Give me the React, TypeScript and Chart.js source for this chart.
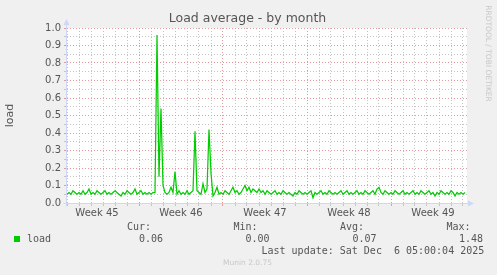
import React, { useEffect, useRef } from "react";
import { Chart, registerables } from "chart.js";

Chart.register(...registerables);

const TITLE = "Load average - by month";
const Y_LABEL = "load";
const SIDE_TEXT = "RRDTOOL / TOBI OETIKER";
const LAST_UPDATE = "Last update: Sat Dec  6 05:00:04 2025";
const FOOTER = "Munin 2.0.75";

// one sample every 4 hours (in days), starting at the left edge of the graph
const STEP_DAYS = 1 / 6;
const X_MAX_DAYS = 100 / 3;

const loadValues = [
  0.05, 0.06, 0.05, 0.07, 0.06, 0.05, 0.06, 0.05, 0.07, 0.05,
  0.06, 0.08, 0.05, 0.06, 0.05, 0.07, 0.06, 0.05, 0.06, 0.07,
  0.05, 0.06, 0.05, 0.06, 0.07, 0.06, 0.05, 0.04, 0.06, 0.05,
  0.07, 0.06, 0.05, 0.06, 0.08, 0.05, 0.06, 0.07, 0.05, 0.06,
  0.05, 0.06, 0.05, 0.06, 0.06, 0.96, 0.15, 0.54, 0.10, 0.06,
  0.05, 0.06, 0.09, 0.06, 0.18, 0.05, 0.07, 0.05, 0.06, 0.05,
  0.07, 0.05, 0.06, 0.07, 0.41, 0.07, 0.06, 0.05, 0.11, 0.06,
  0.08, 0.42, 0.17, 0.04, 0.06, 0.09, 0.05, 0.06, 0.05, 0.07,
  0.06, 0.05, 0.07, 0.09, 0.06, 0.07, 0.05, 0.06, 0.08, 0.10,
  0.07, 0.09, 0.06, 0.08, 0.07, 0.06, 0.08, 0.06, 0.07, 0.05,
  0.07, 0.06, 0.05, 0.06, 0.07, 0.05, 0.06, 0.05, 0.07, 0.06,
  0.05, 0.06, 0.05, 0.04, 0.06, 0.05, 0.07, 0.06, 0.05, 0.06,
  0.05, 0.06, 0.07, 0.03, 0.06, 0.05, 0.06, 0.07, 0.05, 0.06,
  0.05, 0.07, 0.06, 0.05, 0.06, 0.05, 0.06, 0.07, 0.05, 0.06,
  0.07, 0.05, 0.06, 0.05, 0.06, 0.07, 0.05, 0.06, 0.05, 0.07,
  0.06, 0.05, 0.06, 0.07, 0.05, 0.08, 0.09, 0.06, 0.05, 0.07,
  0.06, 0.05, 0.06, 0.05, 0.07, 0.06, 0.05, 0.06, 0.07, 0.05,
  0.06, 0.05, 0.06, 0.07, 0.05, 0.06, 0.05, 0.07, 0.06, 0.05,
  0.06, 0.07, 0.05, 0.06, 0.04, 0.06, 0.05, 0.07, 0.06, 0.05,
  0.06, 0.05, 0.07, 0.06, 0.04, 0.06, 0.05, 0.06, 0.05, 0.06,
];

const dayTicks = [
  0, 1, 2, 3, 4, 5, 6, 7, 8, 9, 10, 11, 12, 13, 14, 15, 16,
  17, 18, 19, 20, 21, 22, 23, 24, 25, 26, 27, 28, 29, 30, 31, 32, 33,
];
const weekBoundaries = [6, 13, 20, 27];
const weekLabels = ["Week 45", "Week 46", "Week 47", "Week 48", "Week 49"];
const weekCenters = [2.5, 9.5, 16.5, 23.5, 30.5];

const yTicks = [
  0, 0.05, 0.1, 0.15, 0.2, 0.25, 0.3, 0.35, 0.4, 0.45, 0.5,
  0.55, 0.6, 0.65, 0.7, 0.75, 0.8, 0.85, 0.9, 0.95, 1.0,
];

const legendSeries = "load";
const legendHeaders = ["Cur:", "Min:", "Avg:", "Max:"];
const legendValues = ["0.06", "0.00", "0.07", "1.48"];

const GREEN = "#00cc00";
const GRID_GRAY = "#c4c4c4";
const GRID_RED = "#e29a9a";
const AXIS_BLUE = "#cfd6f8";
const TEXT = "#555555";
const FAINT = "#c8c8c8";
const SANS = "'DejaVu Sans', sans-serif";
const MONO = "'DejaVu Sans Mono', monospace";

const isTenth = (v: number) => Math.abs(Math.round(v * 10) - v * 10) < 1e-6;

const muninPlugin = {
  id: "muninDecor",
  beforeDraw(chart: any) {
    const { ctx, chartArea: a, width, height } = chart;
    ctx.save();
    ctx.fillStyle = "#f0f0f0";
    ctx.fillRect(0, 0, width, height);
    ctx.fillStyle = "#ffffff";
    ctx.fillRect(a.left, a.top, a.right - a.left, a.bottom - a.top);
    ctx.restore();
  },
  afterDraw(chart: any) {
    const { ctx, chartArea: a } = chart;
    const xs = chart.scales.x;
    ctx.save();

    // axes with arrows
    ctx.strokeStyle = AXIS_BLUE;
    ctx.fillStyle = AXIS_BLUE;
    ctx.lineWidth = 1;
    const ax = Math.round(a.left) - 0.5;
    const ay = Math.round(a.bottom) + 0.5;
    ctx.beginPath();
    ctx.moveTo(ax, ay + 3);
    ctx.lineTo(ax, a.top - 5);
    ctx.moveTo(ax - 3, ay);
    ctx.lineTo(a.right + 3, ay);
    ctx.stroke();
    ctx.beginPath();
    ctx.moveTo(ax, a.top - 9);
    ctx.lineTo(ax - 3, a.top - 3);
    ctx.lineTo(ax + 3, a.top - 3);
    ctx.closePath();
    ctx.fill();
    ctx.beginPath();
    ctx.moveTo(a.right + 7, ay);
    ctx.lineTo(a.right + 1, ay - 3);
    ctx.lineTo(a.right + 1, ay + 3);
    ctx.closePath();
    ctx.fill();

    // title
    ctx.fillStyle = TEXT;
    ctx.font = `12.5px ${SANS}`;
    ctx.textAlign = "center";
    ctx.textBaseline = "middle";
    ctx.fillText(TITLE, 247.5, 19);

    // week labels
    ctx.font = `10px ${SANS}`;
    weekLabels.forEach((lbl, i) => {
      ctx.fillText(lbl, xs.getPixelForValue(weekCenters[i]), 213);
    });

    // y axis label
    ctx.save();
    ctx.translate(10, (a.top + a.bottom) / 2);
    ctx.rotate(-Math.PI / 2);
    ctx.font = `11px ${SANS}`;
    ctx.fillText(Y_LABEL, 0, 0);
    ctx.restore();

    // side text
    ctx.save();
    ctx.translate(488, 53.5);
    ctx.rotate(Math.PI / 2);
    ctx.fillStyle = FAINT;
    ctx.font = `7.5px ${SANS}`;
    ctx.fillText(SIDE_TEXT, 0, 0);
    ctx.restore();

    // legend
    ctx.fillStyle = GREEN;
    ctx.fillRect(14, 236, 6, 6);
    ctx.fillStyle = TEXT;
    ctx.font = `10px ${MONO}`;
    ctx.textAlign = "left";
    ctx.fillText(legendSeries, 27, 239.5);
    const headerX = [127, 233.5, 340, 446.5];
    const valueX = [139, 245.5, 352.5, 459];
    legendHeaders.forEach((h, i) => ctx.fillText(h, headerX[i], 227.5));
    legendValues.forEach((v, i) => ctx.fillText(v, valueX[i], 239.5));
    ctx.fillText(LAST_UPDATE, 261.5, 251.5);

    // footer
    ctx.fillStyle = FAINT;
    ctx.font = `7.5px ${SANS}`;
    ctx.textAlign = "center";
    ctx.fillText(FOOTER, 247.5, 263.5);

    ctx.restore();
  },
};

export default function App() {
  const canvasRef = useRef<HTMLCanvasElement | null>(null);

  useEffect(() => {
    document.body.style.margin = "0";
    document.body.style.background = "#f0f0f0";
    const canvas = canvasRef.current;
    if (!canvas) return;
    const points = loadValues.map((v, i) => ({ x: i * STEP_DAYS, y: v }));
    const chart = new Chart(canvas, {
      type: "line",
      data: {
        datasets: [
          {
            label: legendSeries,
            data: points,
            borderColor: GREEN,
            backgroundColor: GREEN,
            borderWidth: 1.25,
            pointRadius: 0,
            tension: 0,
            fill: false,
          },
        ],
      },
      options: {
        animation: false,
        responsive: false,
        devicePixelRatio: 1,
        events: [],
        layout: { padding: { top: 28, right: 30, left: 0, bottom: 0 } },
        plugins: {
          legend: { display: false },
          tooltip: { enabled: false },
          title: { display: false },
        },
        scales: {
          x: {
            type: "linear",
            min: 0,
            max: X_MAX_DAYS,
            afterBuildTicks: (s: any) => {
              s.ticks = dayTicks.map((v) => ({ value: v }));
            },
            afterFit: (s: any) => {
              s.height = 72;
            },
            ticks: { autoSkip: false, callback: () => "", maxRotation: 0 },
            grid: {
              color: (c: any) =>
                weekBoundaries.includes(c.tick?.value) ? GRID_RED : GRID_GRAY,
              tickColor: (c: any) =>
                weekBoundaries.includes(c.tick?.value) ? GRID_RED : GRID_GRAY,
              lineWidth: 1,
              drawTicks: true,
              tickLength: 3,
              tickBorderDash: [],
            },
            border: { display: false, dash: [1, 2] },
          },
          y: {
            type: "linear",
            min: 0,
            max: 1,
            afterBuildTicks: (s: any) => {
              s.ticks = yTicks.map((v) => ({ value: v }));
            },
            afterFit: (s: any) => {
              s.width = 67;
            },
            ticks: {
              autoSkip: false,
              color: TEXT,
              font: { family: SANS, size: 10 },
              padding: 3,
              callback: (v: any) => (isTenth(Number(v)) ? Number(v).toFixed(1) : ""),
            },
            grid: {
              color: (c: any) => (isTenth(c.tick?.value ?? 0) ? GRID_RED : GRID_GRAY),
              tickColor: (c: any) => (isTenth(c.tick?.value ?? 0) ? GRID_RED : GRID_GRAY),
              lineWidth: 1,
              drawTicks: true,
              tickLength: 3,
              tickBorderDash: [],
            },
            border: { display: false, dash: [1, 2] },
          },
        },
      },
      plugins: [muninPlugin],
    });
    return () => chart.destroy();
  }, []);

  return (
    <div
      style={{
        position: "absolute",
        left: 0,
        top: 0,
        width: 497,
        height: 275,
        background: "#f0f0f0",
      }}
    >
      <canvas ref={canvasRef} width={497} height={275} style={{ width: 497, height: 275, display: "block" }} />
    </div>
  );
}
